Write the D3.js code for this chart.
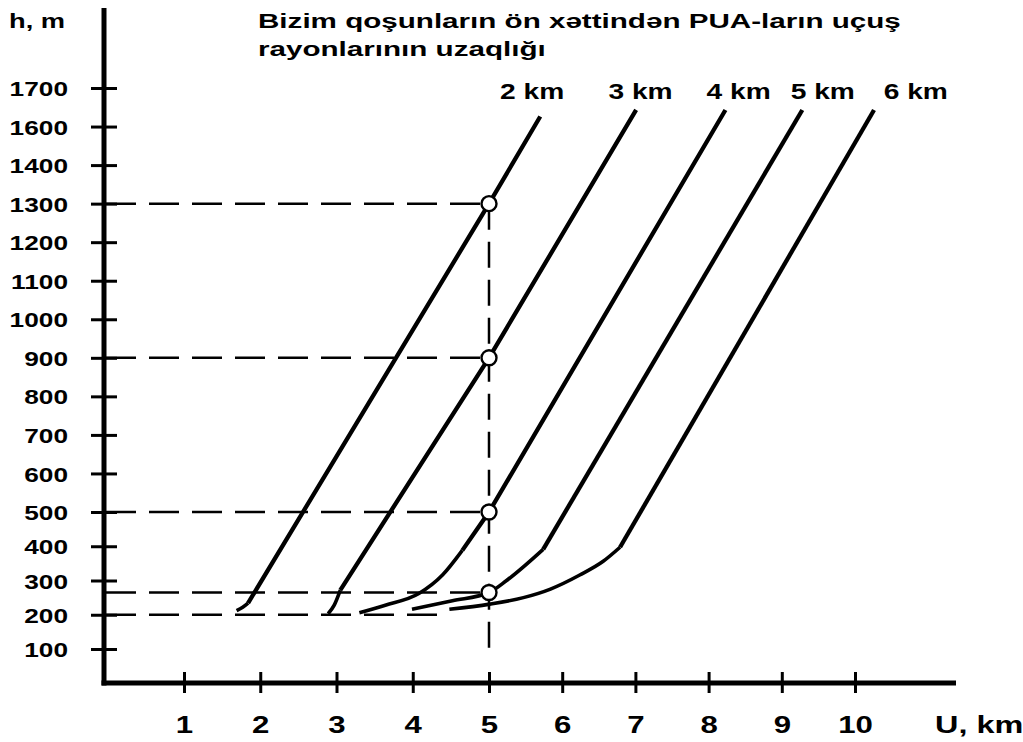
<!DOCTYPE html>
<html>
<head>
<meta charset="utf-8">
<script src="https://cdn.jsdelivr.net/npm/d3@7"></script>
<style>
  body { margin: 0; background: #fff; }
  text { font-family: "Liberation Sans", Arial, sans-serif; font-weight: bold; fill: #000; }
</style>
</head>
<body>
<div id="chart"></div>
<script>
var yTicks = [100, 200, 300, 400, 500, 600, 700, 800, 900, 1000, 1100, 1200, 1300, 1400, 1600, 1700];
var xTicks = [1, 2, 3, 4, 5, 6, 7, 8, 9, 10];
var seriesNames = ["2 km", "3 km", "4 km", "5 km", "6 km"];
var labelAt = [5.59, 7.07, 8.41, 9.56, 10.83];   // U, km where each name sits

// bent lower part of each curve, [U km, h m]
var lowParts = [
  [[1.69, 212], [1.77, 222], [1.84, 234]],
  [[2.89, 203], [2.97, 228], [3.05, 272]],
  [[3.30, 206], [3.64, 228], [4.08, 262], [4.39, 316], [4.65, 388]],
  [[3.99, 216], [4.52, 241], [5.00, 265], [5.24, 300], [5.74, 391]],
  [[4.48, 216], [5.01, 231], [5.47, 250], [5.84, 275], [6.24, 316], [6.56, 356], [6.79, 397]]
];
// straight upper part
var highParts = [
  [[1.84, 234], [5, 1300], [5.70, 1626]],
  [[3.05, 272], [5, 900], [7.01, 1643]],
  [[4.65, 388], [5, 500], [8.23, 1643]],
  [[5.74, 391], [9.28, 1643]],
  [[6.79, 397], [10.26, 1643]]
];
var markedH = [1300, 900, 500, 265];   // circles at U = 5 km
var markedU = 5;
var baseH = 200, baseEnd = 4.33;        // lowest dashed guide
var guideBottom = 100;

var W = 1023, H = 742;
var axisX = 104, axisY = 683;

var svg = d3.select("#chart").append("svg")
  .attr("width", W).attr("height", H);

// hand-drawn axes: slightly uneven spacing
var x = d3.scaleLinear().domain([1, 5, 10]).range([184, 489, 855]);
var yPix = d3.scaleLinear().domain([0, 4, yTicks.length - 1]).range([649, 512, 88]);
var y = d3.scaleLinear().domain(yTicks).range(yTicks.map(function(d, i) { return yPix(i); }));

// axes
var yAxis = svg.append("g")
  .attr("transform", "translate(" + axisX + ",0)")
  .call(d3.axisLeft(y).tickValues(yTicks).tickFormat(d3.format("d")).tickSize(13).tickPadding(23));
yAxis.select(".domain").remove();
yAxis.selectAll(".tick line").attr("x1", 13).attr("stroke", "#000").attr("stroke-width", 3);
yAxis.selectAll(".tick text")
  .attr("x", 0).attr("dy", "0.36em")
  .attr("transform", "translate(-36,0) scale(1.25,1)")
  .style("font-size", "21px").attr("fill", "#000");

var xAxis = svg.append("g")
  .attr("transform", "translate(0," + axisY + ")")
  .call(d3.axisBottom(x).tickValues(xTicks).tickSize(10));
xAxis.select(".domain").remove();
xAxis.selectAll(".tick line").attr("y1", -11).attr("stroke", "#000").attr("stroke-width", 3);
xAxis.selectAll(".tick text")
  .attr("y", 0).attr("dy", 0)
  .attr("transform", "translate(0,50) scale(1.3,1)")
  .style("font-size", "24px").attr("fill", "#000");

svg.append("line").attr("x1", axisX).attr("x2", axisX).attr("y1", 8).attr("y2", axisY + 2.5)
  .attr("stroke", "#000").attr("stroke-width", 5);
svg.append("line").attr("x1", axisX - 2.5).attr("x2", 956).attr("y1", axisY).attr("y2", axisY)
  .attr("stroke", "#000").attr("stroke-width", 5);

// dashed guides
var dash = "30,13";
markedH.forEach(function(h) {
  svg.append("line")
    .attr("x1", axisX + 2).attr("x2", x(markedU)).attr("y1", y(h)).attr("y2", y(h))
    .attr("stroke", "#000").attr("stroke-width", 2.5).attr("stroke-dasharray", dash);
});
svg.append("line")
  .attr("x1", axisX + 2).attr("x2", x(baseEnd)).attr("y1", y(baseH)).attr("y2", y(baseH))
  .attr("stroke", "#000").attr("stroke-width", 2.5).attr("stroke-dasharray", dash);
svg.append("line")
  .attr("x1", x(markedU)).attr("x2", x(markedU)).attr("y1", y(d3.max(markedH))).attr("y2", y(guideBottom))
  .attr("stroke", "#000").attr("stroke-width", 2.5).attr("stroke-dasharray", "26,12");

// curves
var curved = d3.line().x(function(d) { return x(d[0]); }).y(function(d) { return y(d[1]); })
  .curve(d3.curveMonotoneX);
var straight = d3.line().x(function(d) { return x(d[0]); }).y(function(d) { return y(d[1]); });

svg.selectAll("path.low").data(lowParts).enter().append("path")
  .attr("class", "low").attr("d", curved)
  .attr("fill", "none").attr("stroke", "#000").attr("stroke-width", 3.6);
svg.selectAll("path.high").data(highParts).enter().append("path")
  .attr("class", "high").attr("d", straight)
  .attr("fill", "none").attr("stroke", "#000").attr("stroke-width", 4.3);

// marked points
svg.selectAll("circle.pt").data(markedH).enter().append("circle")
  .attr("class", "pt")
  .attr("cx", x(markedU)).attr("cy", function(d) { return y(d); })
  .attr("r", 7.5).attr("fill", "#fff").attr("stroke", "#000").attr("stroke-width", 2.4);

// series names
svg.selectAll("text.name").data(seriesNames).enter().append("text")
  .attr("class", "name")
  .attr("text-anchor", "middle")
  .attr("transform", function(d, i) { return "translate(" + x(labelAt[i]) + "," + (y(1700) + 11) + ") scale(1.28,1)"; })
  .style("font-size", "22px")
  .text(function(d) { return d; });

// titles
svg.append("text").attr("transform", "translate(9,28) scale(1.4,1)")
  .style("font-size", "19.5px").text("h, m");
svg.append("text").attr("transform", "translate(258,28) scale(1.48,1)")
  .style("font-size", "20px").text("Bizim qoşunların ön xəttindən PUA-ların uçuş");
svg.append("text").attr("transform", "translate(258,56) scale(1.48,1)")
  .style("font-size", "20px").text("rayonlarının uzaqlığı");
svg.append("text").attr("transform", "translate(935,733) scale(1.35,1)")
  .style("font-size", "24px").text("U, km");
</script>
</body>
</html>
